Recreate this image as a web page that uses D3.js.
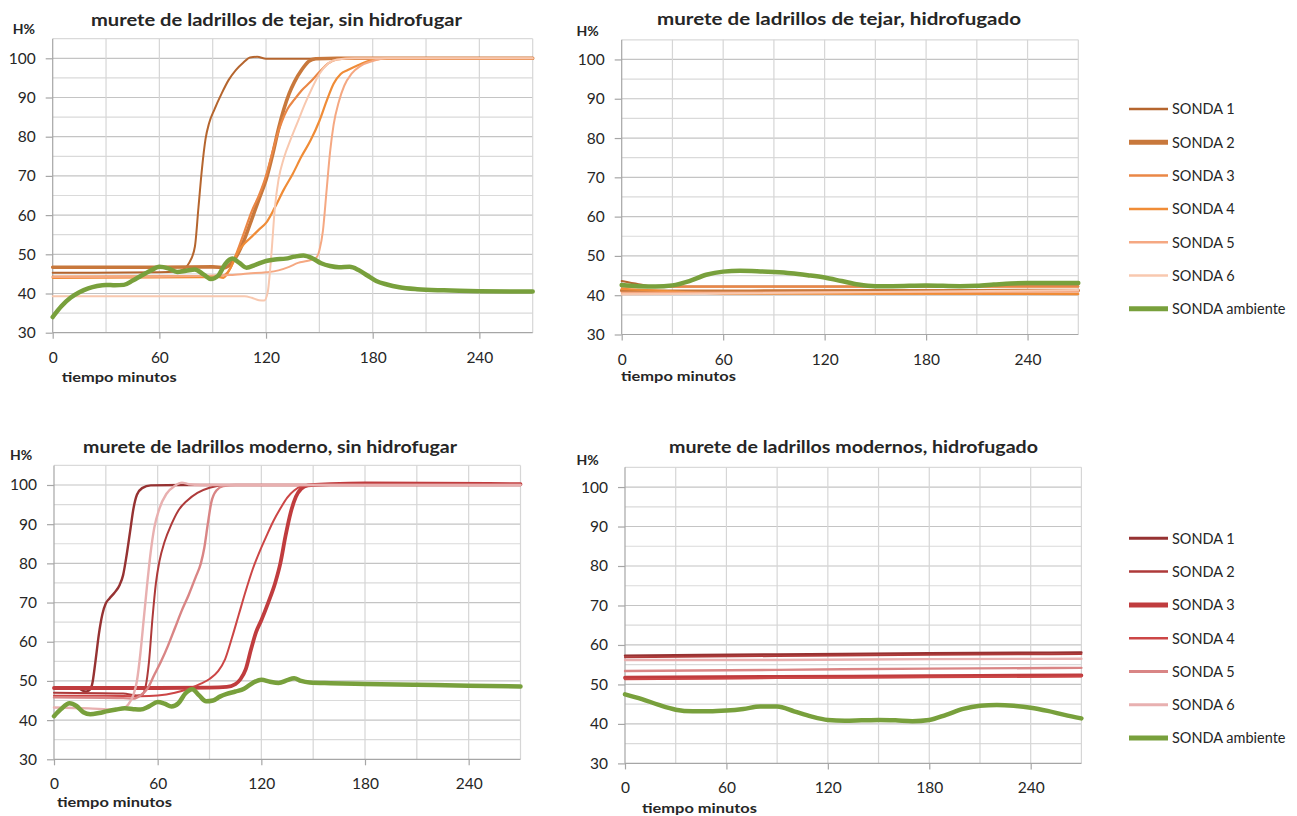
<!DOCTYPE html>
<html><head><meta charset="utf-8">
<script src="https://cdn.jsdelivr.net/npm/d3@7/dist/d3.min.js"></script>
<style>
body{margin:0;background:#fff}
svg{display:block}
text{font-family:Lato,"Open Sans",sans-serif;fill:#262626}
</style></head>
<body><svg id="chart" width="1297" height="816"></svg>
<script>
// ---------- DATA ----------
const xTicks = [0, 60, 120, 180, 240];
const yTicks = [30, 40, 50, 60, 70, 80, 90, 100];
const seriesNames = ["SONDA 1","SONDA 2","SONDA 3","SONDA 4","SONDA 5","SONDA 6","SONDA ambiente"];
const titles = [
  "murete de ladrillos de tejar, sin hidrofugar",
  "murete de ladrillos de tejar, hidrofugado",
  "murete de ladrillos moderno, sin hidrofugar",
  "murete de ladrillos modernos, hidrofugado"
];
const yLabel = "H%";
const xLabel = "tiempo minutos";

// murete de tejar, sin hidrofugar  [minutos, H%]
const tejarSin1 = [[0,45.3],[60,45.4],[70,45.6],[74,46.3],[77,48],[80,52],[82,62],[84,72],[86,79.5],[88,83.5],[91,87],[95,91],[99,94.5],[103,97],[107,98.8],[111,100.2],[115,100.4],[120,99.9],[140,99.9],[270,100]];
const tejarSin2 = [[0,46.7],[60,46.7],[90,46.8],[97,46.6],[100,47.5],[104,50],[108,54],[112,59],[116,64],[120,69],[124,76],[127,82],[130,87],[133,91],[136,94],[140,97],[144,99.2],[148,99.9],[160,100],[270,100]];
const tejarSin3 = [[0,44.3],[90,44.4],[96,44.6],[100,46.5],[104,51],[108,56],[112,61],[116,65],[120,70],[123,75],[126,80],[129,84],[132,87],[136,89.5],[140,91.8],[145,94],[150,96.5],[155,98.7],[160,99.7],[168,100],[270,100]];
const tejarSin4 = [[0,44.0],[85,44.2],[92,44.3],[96,44.0],[100,46.5],[104,50.5],[108,52.8],[112,54.5],[116,56.3],[120,58],[125,62],[130,66.5],[135,70.5],[140,75],[145,79],[150,84],[154,89],[158,93.5],[162,96],[166,97],[172,98.3],[180,99.6],[188,100],[270,100]];
const tejarSin5 = [[0,44.2],[60,44.3],[100,44.7],[110,45.1],[120,45.4],[127,45.9],[133,46.8],[138,47.8],[143,48.3],[148,49],[150,51],[152,56],[154,66],[156,76],[158,83],[161,89],[164,93],[168,96],[173,98],[180,99.3],[188,100],[270,100]];
const tejarSin6 = [[0,39.3],[108,39.3],[112,38.9],[116,38.3],[119,38.2],[121,40.5],[123,50],[125,62],[127,69],[130,74.5],[134,79.5],[138,84],[142,88.5],[146,92.5],[150,96],[155,98.7],[160,99.7],[170,100],[270,100]];
const tejarSinAmb = [[0,34],[5,36.8],[10,38.9],[15,40.3],[20,41.3],[25,41.9],[30,42.2],[35,42.1],[40,42.2],[45,43.3],[50,44.6],[55,45.8],[60,46.8],[65,46.4],[70,45.5],[75,45.8],[80,46.1],[85,44.8],[89,43.7],[93,44.5],[97,47.5],[101,48.9],[105,47.8],[109,46.6],[114,47.3],[120,48.3],[125,48.7],[131,48.9],[136,49.4],[141,49.7],[146,49],[151,47.7],[156,47],[161,46.7],[167,46.8],[172,46],[177,44.6],[182,43.2],[188,42.3],[195,41.6],[205,41.1],[220,40.8],[240,40.6],[270,40.5]];

// murete de tejar, hidrofugado
const tejarHid1 = [[0,43.6],[10,42.8],[20,42.2],[120,42.2],[270,42.3]];
const tejarHid2 = [[0,41.2],[30,41.0],[150,41.1],[270,41.2]];
const tejarHid3 = [[0,42.2],[270,42.2]];
const tejarHid4 = [[0,41.6],[30,41.0],[60,40.4],[270,40.3]];
const tejarHid5 = [[0,40.6],[270,40.9]];
const tejarHid6 = [[0,40.2],[270,41.3]];
const tejarHidAmb = [[0,42.6],[10,42.3],[20,42.2],[30,42.5],[40,43.6],[50,45.2],[60,46],[70,46.2],[80,46.1],[90,45.9],[100,45.6],[110,45.1],[120,44.5],[130,43.6],[140,42.7],[150,42.3],[160,42.3],[180,42.5],[200,42.3],[210,42.4],[220,42.7],[230,43],[240,43.1],[270,43.1]];

// murete moderno, sin hidrofugar
const modSin1 = [[0,48.2],[14,48.1],[18,47.3],[20,47.5],[22,49],[24,55],[26,62],[28,67],[30,69.8],[32,71],[35,72.5],[38,74.5],[40,77],[42,82],[44,88],[46,94],[48,97.5],[51,99.2],[56,99.9],[75,100],[270,100]];
const modSin2 = [[0,47],[40,46.8],[48,46.3],[51,46.5],[53,48.5],[55,55],[57,66],[59,75],[61,80.5],[64,85.5],[68,90],[72,93.5],[77,96],[83,98],[90,99.3],[100,100],[270,100]];
const modSin3 = [[0,48.2],[60,48.2],[90,48.3],[100,48.5],[105,49.2],[108,50.5],[111,53],[114,58],[117,62.5],[120,65.5],[124,70],[128,75],[131,80],[134,87],[137,93],[140,97],[143,99],[147,99.9],[160,100.2],[180,100.4],[270,100.2]];
const modSin4 = [[0,46.2],[30,46.2],[50,46.1],[60,46.3],[70,47],[78,48],[85,49.3],[90,50.5],[95,52.5],[99,55.5],[103,61],[107,67],[111,73],[115,78.5],[119,83],[123,87],[127,90.8],[131,94],[135,96.8],[139,98.6],[143,99.6],[150,100],[270,100]];
const modSin5 = [[0,45.8],[40,45.6],[46,45.5],[50,46.3],[54,48],[58,51.5],[62,55],[66,59],[70,63.5],[74,68],[78,72],[82,76.5],[85,80],[87,84],[89,90],[91,95.5],[94,98.6],[98,99.7],[105,100],[270,100]];
const modSin6 = [[0,43.2],[20,43],[35,42.7],[40,43],[43,44],[46,46.5],[48,50],[50,57],[52,66],[54,75],[56,83],[58,89],[61,94],[65,97.7],[70,99.8],[74,100.6],[78,100.2],[85,100],[270,100]];
const modSinAmb = [[0,41],[4,42.8],[9,44.3],[13,43.6],[17,42],[21,41.5],[26,41.8],[31,42.3],[36,42.7],[41,43],[46,42.8],[50,42.7],[55,43.5],[60,44.6],[64,44.2],[68,43.5],[72,44.3],[76,46.8],[80,47.9],[84,46.3],[88,44.8],[92,45],[96,46],[100,46.7],[105,47.3],[110,48],[115,49.5],[120,50.3],[125,49.8],[130,49.5],[135,50.2],[139,50.7],[143,50],[148,49.6],[160,49.4],[180,49.2],[210,49],[240,48.8],[270,48.6]];

// murete moderno, hidrofugado
const modHid1 = [[0,57.3],[90,57.6],[180,57.9],[270,58.1]];
const modHid2 = [[0,56.9],[90,57.2],[180,57.5],[270,57.7]];
const modHid3 = [[0,51.7],[90,51.9],[180,52.1],[270,52.3]];
const modHid4 = [[0,51.3],[90,51.6],[180,51.8],[270,52.0]];
const modHid5 = [[0,53.4],[90,53.7],[180,54.0],[270,54.2]];
const modHid6 = [[0,56.2],[90,56.2],[180,56.4],[270,56.5]];
const modHidAmb = [[0,47.5],[10,46.3],[20,44.8],[30,43.6],[40,43.2],[50,43.2],[60,43.4],[70,43.8],[80,44.4],[90,44.4],[100,43.2],[110,41.9],[120,41],[130,40.8],[140,40.9],[150,41],[160,40.9],[170,40.7],[180,41],[190,42.3],[200,43.8],[210,44.6],[220,44.8],[230,44.6],[240,44.1],[250,43.3],[260,42.3],[270,41.4]];

// ---------- STYLE / LAYOUT ----------
const orangeColors = ["#b5652e","#c8783c","#ea8746","#f08c37","#f5a882","#f8c8af","#78a03c"];
const redColors    = ["#963232","#ae3a3a","#c03c3e","#cc4646","#d98585","#e8b0b0","#78a03c"];
const orangeWidths = [2,3.6,2.2,2.2,2,2,4.5];
const redWidths    = [2.4,2,3.8,2,2.4,2.4,4.5];
const orangeLegW   = [2.5,5,2.5,2.5,2.5,2.5,5];
const redLegW      = [3,2.5,5,2.5,3,3,5];

const panels = [
  {title:titles[0], data:[tejarSin1,tejarSin2,tejarSin3,tejarSin4,tejarSin5,tejarSin6,tejarSinAmb], colors:orangeColors, widths:orangeWidths,
   x0:52.7, x1:532.7, yT:38.7, yB:332.7, tX:276.5, tY:26, tW:371, hX:12.7, hY:33.5, mX:61.7, mY:382, legend:null},
  {title:titles[1], data:[tejarHid1,tejarHid2,tejarHid3,tejarHid4,tejarHid5,tejarHid6,tejarHidAmb], colors:orangeColors, widths:orangeWidths,
   x0:621.7, x1:1078.3, yT:39.8, yB:334.5, tX:839, tY:25, tW:364, hX:576.5, hY:36, mX:621, mY:381, legend:{y:109, lw:orangeLegW}},
  {title:titles[2], data:[modSin1,modSin2,modSin3,modSin4,modSin5,modSin6,modSinAmb], colors:redColors, widths:redWidths,
   x0:54, x1:520.5, yT:465.4, yB:759.3, tX:270, tY:453, tW:374, hX:10, hY:460, mX:57, mY:807, legend:null},
  {title:titles[3], data:[modHid1,modHid2,modHid3,modHid4,modHid5,modHid6,modHidAmb], colors:redColors, widths:redWidths,
   x0:625, x1:1081.4, yT:467.3, yB:763.4, tX:853.5, tY:453, tW:369, hX:576.5, hY:464.5, mX:642, mY:813, legend:{y:538.3, lw:redLegW}}
];

const svg = d3.select("#chart");

panels.forEach(p => {
  const x = d3.scaleLinear().domain([0,270]).range([p.x0,p.x1]);
  const y = d3.scaleLinear().domain([30,105]).range([p.yB,p.yT]);
  const g = svg.append("g");

  // horizontal gridlines every 5
  const hg = d3.range(35,106,5);
  g.selectAll(".hg").data(hg).enter().append("line")
    .attr("x1",p.x0).attr("x2",p.x1)
    .attr("y1",d=>y(d)).attr("y2",d=>y(d))
    .attr("stroke",d=> d%10===0 ? "#c4c4c4" : "#dadada").attr("stroke-width",1.2);
  // vertical gridlines every 30
  const vg = d3.range(30,271,30);
  g.selectAll(".vg").data(vg).enter().append("line")
    .attr("x1",d=>x(d)).attr("x2",d=>x(d))
    .attr("y1",p.yT).attr("y2",p.yB)
    .attr("stroke","#d6d6d6").attr("stroke-width",1.2);

  // axes
  const yAxis = d3.axisLeft(y).tickValues(yTicks).tickSize(7).tickPadding(10).tickFormat(d3.format("d"));
  const ya = g.append("g").attr("transform",`translate(${p.x0},0)`).call(yAxis);
  const xAxis = d3.axisBottom(x).tickValues(xTicks).tickSize(6).tickPadding(13).tickFormat(d3.format("d"));
  const xa = g.append("g").attr("transform",`translate(0,${p.yB})`).call(xAxis);
  [ya,xa].forEach(a=>{
    a.select(".domain").attr("stroke","#a6a6a6").attr("stroke-width",1.2);
    a.selectAll(".tick line").attr("stroke","#a6a6a6").attr("stroke-width",1.2);
    a.selectAll(".tick text").attr("font-size",15.5).attr("font-family","Lato, 'Open Sans', sans-serif").attr("fill","#333");
  });
  ya.select(".domain").attr("d",`M0,${p.yB}V${p.yT}`);
  xa.select(".domain").attr("d",`M${p.x0},0H${p.x1}`);

  // series
  const line = d3.line().x(d=>x(d[0])).y(d=>y(d[1])).curve(d3.curveMonotoneX);
  p.data.forEach((s,i)=>{
    g.append("path").datum(s).attr("d",line).attr("fill","none")
      .attr("stroke",p.colors[i]).attr("stroke-width",p.widths[i])
      .attr("stroke-linejoin","round").attr("stroke-linecap","round");
  });

  // texts
  g.append("text").attr("x",p.tX).attr("y",p.tY).attr("text-anchor","middle")
    .attr("font-size",17).attr("font-weight","bold").attr("fill","#1a1a1a")
    .attr("textLength",p.tW).attr("lengthAdjust","spacingAndGlyphs").text(p.title);
  g.append("text").attr("x",p.hX).attr("y",p.hY).attr("font-size",14).attr("font-weight","bold").attr("fill","#1a1a1a").text(yLabel);
  g.append("text").attr("x",p.mX).attr("y",p.mY).attr("font-size",14).attr("font-weight","bold").attr("fill","#1a1a1a")
    .attr("textLength",115).attr("lengthAdjust","spacingAndGlyphs").text(xLabel);

  // legend
  if (p.legend) {
    const lg = g.append("g");
    seriesNames.forEach((n,i)=>{
      const yy = p.legend.y + i*33.3;
      lg.append("line").attr("x1",1129).attr("x2",1168).attr("y1",yy).attr("y2",yy)
        .attr("stroke",p.colors[i]).attr("stroke-width",p.legend.lw[i]);
      lg.append("text").attr("x",1172).attr("y",yy+5.3).attr("font-size",14.5).attr("fill","#333").text(n);
    });
  }
});
</script>
</body></html>
